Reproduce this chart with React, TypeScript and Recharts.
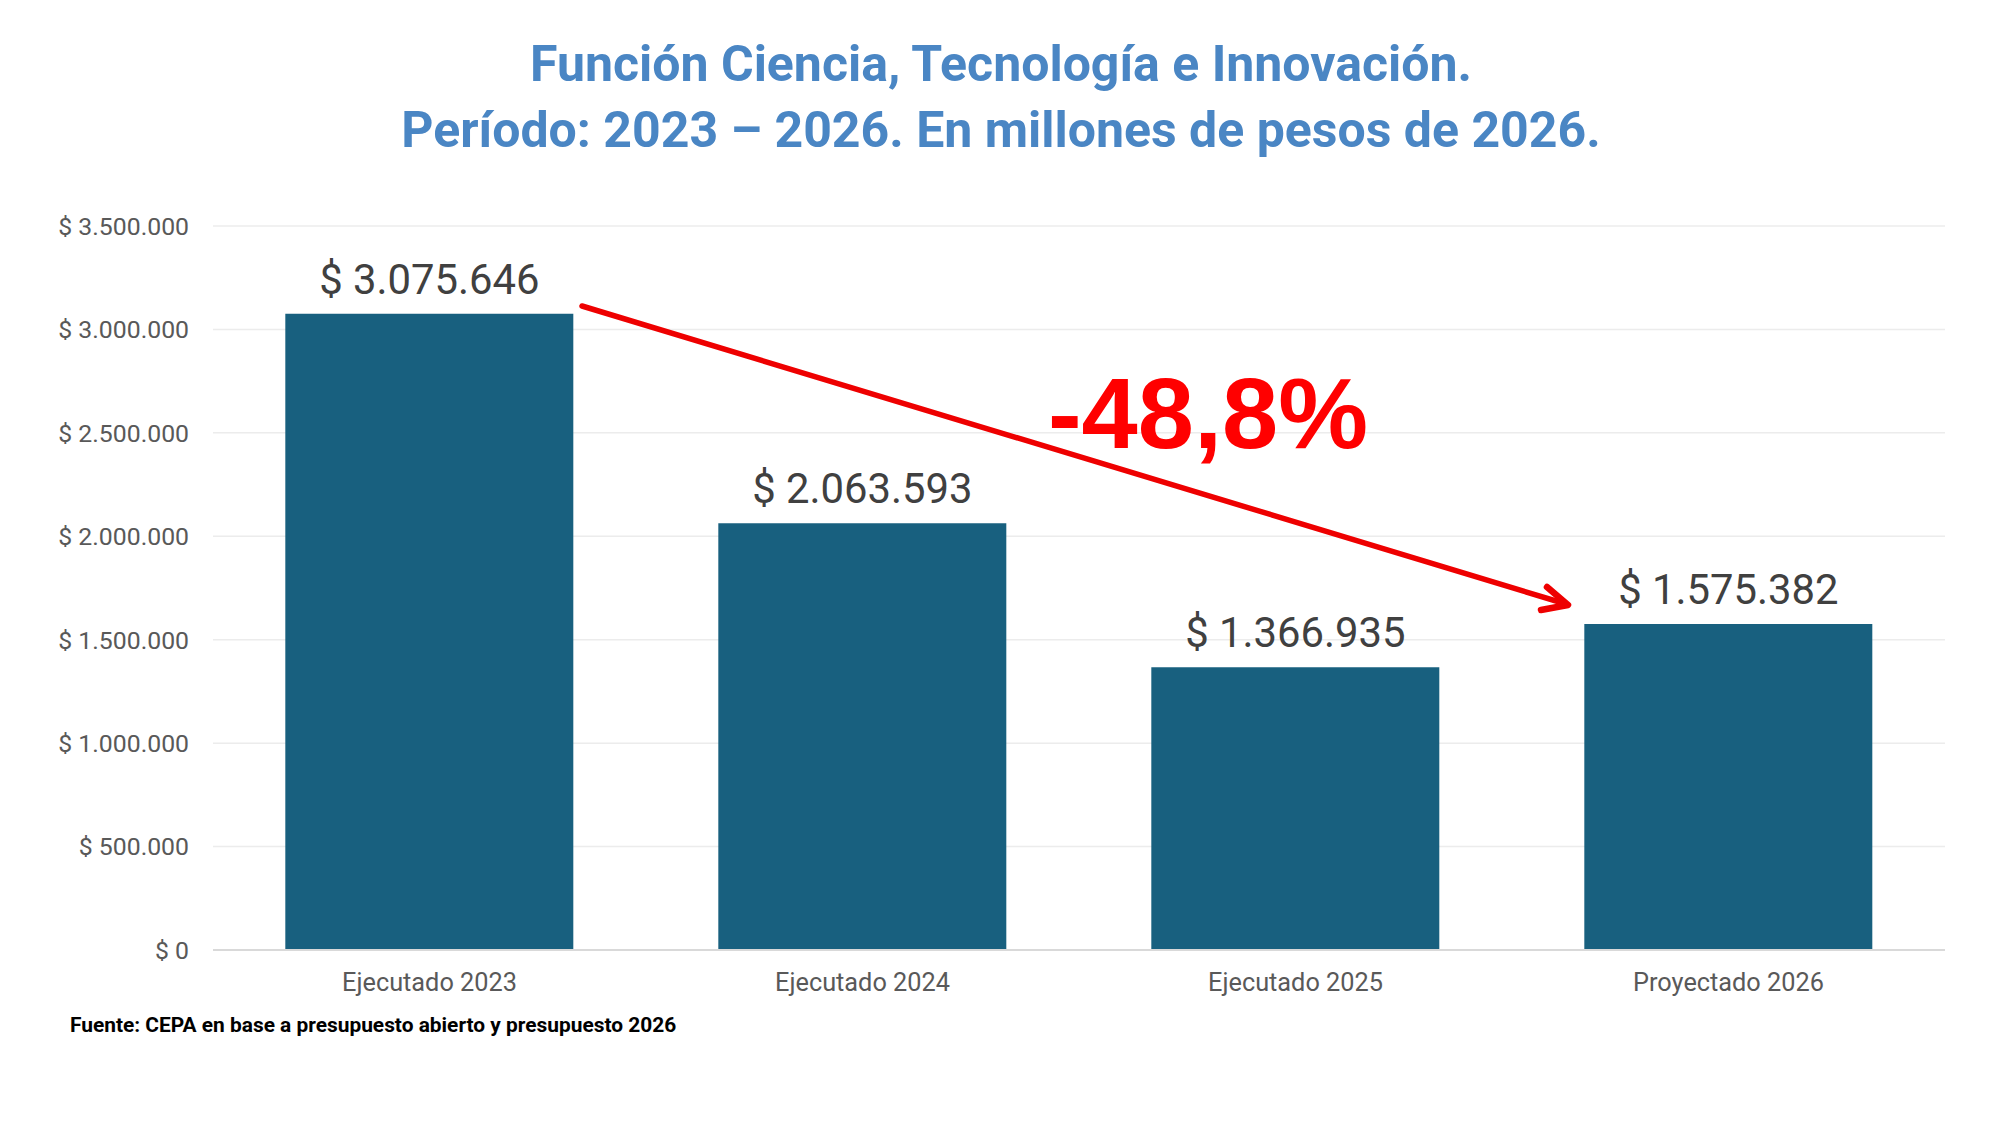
import { BarChart, Bar, XAxis, YAxis, CartesianGrid, LabelList } from "recharts"

const categories = ["Ejecutado 2023", "Ejecutado 2024", "Ejecutado 2025", "Proyectado 2026"]
const montos = [3075646, 2063593, 1366935, 1575382]
const yTicks = [0, 500000, 1000000, 1500000, 2000000, 2500000, 3000000, 3500000]
const variacion = "-48,8%"

const titleLines = [
  "Función Ciencia, Tecnología e Innovación.",
  "Período: 2023 – 2026. En millones de pesos de 2026.",
]
const fuente = "Fuente: CEPA en base a presupuesto abierto y presupuesto 2026"

const data = categories.map((name, i) => ({ name, value: montos[i] }))

// miles con punto, estilo argentino
const fmt = (v: number) => "$ " + String(v).replace(/\B(?=(\d{3})+(?!\d))/g, ".")

const FONT = "Roboto, 'Noto Sans', sans-serif"

export default function App() {
  return (
    <div style={{ position: "absolute", left: 0, top: 0, width: 2000, height: 1125, background: "#fff" }}>
      <BarChart
        width={2000}
        height={1125}
        data={data}
        margin={{ top: 226, right: 55, left: 0, bottom: 115 }}
        barCategoryGap="16.7%"
      >
        <CartesianGrid vertical={false} stroke="#ececec" strokeWidth={1.5} />
        <XAxis
          dataKey="name"
          height={60}
          axisLine={{ stroke: "#d9d9d9", strokeWidth: 2 }}
          tickLine={false}
          tickSize={0}
          tickMargin={23}
          tick={{ fill: "#595959", fontSize: 25.3, fontFamily: FONT }}
        />
        <YAxis
          width={213}
          domain={[0, 3500000]}
          ticks={yTicks}
          axisLine={false}
          tickLine={false}
          tickSize={0}
          tickMargin={24}
          tickFormatter={(v) => fmt(Number(v))}
          tick={{ fill: "#595959", fontSize: 24.8, fontFamily: FONT }}
        />
        <Bar dataKey="value" fill="#18607f" isAnimationActive={false}>
          <LabelList
            dataKey="value"
            position="top"
            offset={20}
            formatter={(v: any) => fmt(Number(v))}
            style={{ fill: "#404040", fontSize: 41.8, fontFamily: FONT }}
          />
        </Bar>
      </BarChart>

      <svg
        width={2000}
        height={1125}
        style={{ position: "absolute", left: 0, top: 0, pointerEvents: "none" }}
      >
        {titleLines.map((t, i) => (
          <text
            key={i}
            x={1001}
            y={81 + i * 66}
            textAnchor="middle"
            fill="#4a86c4"
            fontSize={50}
            fontWeight={700}
            fontFamily={FONT}
          >
            {t}
          </text>
        ))}

        {/* flecha de variación */}
        <line x1={582} y1={306} x2={1566} y2={604} stroke="#ee0000" strokeWidth={5.5} strokeLinecap="round" />
        <polyline
          points="1547,587 1568,605 1541,610"
          fill="none"
          stroke="#ee0000"
          strokeWidth={6.5}
          strokeLinecap="round"
          strokeLinejoin="round"
        />
        <text
          x={1208}
          y={448}
          textAnchor="middle"
          fill="#ff0000"
          fontSize={101}
          fontWeight={700}
          fontFamily="'Liberation Sans', Arial, sans-serif"
        >
          {variacion}
        </text>

        <text x={70} y={1032} fill="#000" fontSize={20.9} fontWeight={700} fontFamily={FONT}>
          {fuente}
        </text>
      </svg>
    </div>
  )
}
